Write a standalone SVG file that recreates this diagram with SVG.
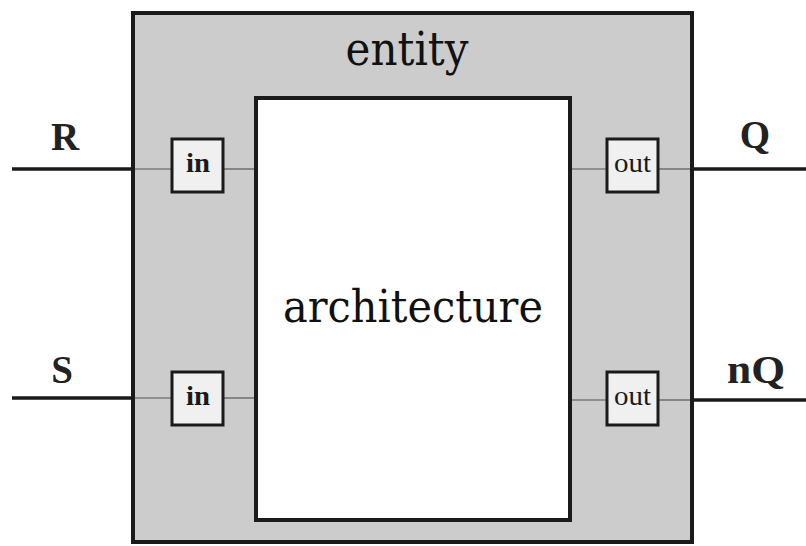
<svg xmlns="http://www.w3.org/2000/svg" width="806" height="546" viewBox="0 0 806 546">
  <style>
    .frame { stroke: #1a1a1a; stroke-width: 4; }
    .port { fill: #f0f0f0; stroke: #1a1a1a; stroke-width: 3; }
    .wire { stroke: #1a1a1a; stroke-width: 3.5; fill: none; }
    .tap { stroke: #555555; stroke-width: 1.2; fill: none; }
    .sig { font-family: "Liberation Serif", serif; font-weight: bold; font-size: 39px; fill: #222222; text-anchor: middle; }
    .pl { font-family: "Liberation Serif", serif; font-size: 28px; fill: #1a1a1a; text-anchor: middle; }
    .big { font-family: "DejaVu Serif", "Liberation Serif", serif; fill: #111111; text-anchor: middle; }
  </style>
  <rect width="806" height="546" fill="#ffffff"/>

  <g id="entity">
    <rect class="frame" x="133" y="13" width="559" height="529" fill="#cccccc"/>
    <text class="big" x="407" y="65" font-size="46" textLength="123" lengthAdjust="spacingAndGlyphs">entity</text>
  </g>

  <g id="architecture">
    <rect class="frame" x="256" y="98" width="314" height="422" fill="#ffffff"/>
    <text class="big" x="413" y="322" font-size="44" textLength="260" lengthAdjust="spacingAndGlyphs">architecture</text>
  </g>

  <g id="connectors">
    <line class="wire" x1="12" y1="169" x2="133" y2="169"/>
    <line class="wire" x1="12" y1="398" x2="133" y2="398"/>
    <line class="wire" x1="692" y1="169" x2="806" y2="169"/>
    <line class="wire" x1="692" y1="400" x2="806" y2="400"/>
    <line class="tap" x1="135" y1="169" x2="172" y2="169"/>
    <line class="tap" x1="223" y1="169" x2="254" y2="169"/>
    <line class="tap" x1="135" y1="398" x2="172" y2="398"/>
    <line class="tap" x1="223" y1="398" x2="254" y2="398"/>
    <line class="tap" x1="572" y1="169" x2="607" y2="169"/>
    <line class="tap" x1="658" y1="169" x2="690" y2="169"/>
    <line class="tap" x1="572" y1="400" x2="607" y2="400"/>
    <line class="tap" x1="658" y1="400" x2="690" y2="400"/>
  </g>

  <g id="port-R">
    <rect class="port" x="172" y="139" width="51" height="53"/>
    <text class="pl" x="198" y="172" font-weight="bold" textLength="24" lengthAdjust="spacingAndGlyphs">in</text>
    <text class="sig" x="65" y="150">R</text>
  </g>

  <g id="port-S">
    <rect class="port" x="172" y="372" width="51" height="53"/>
    <text class="pl" x="198" y="405" font-weight="bold" textLength="24" lengthAdjust="spacingAndGlyphs">in</text>
    <text class="sig" x="62" y="383">S</text>
  </g>

  <g id="port-Q">
    <rect class="port" x="607" y="139" width="51" height="53"/>
    <text class="pl" x="632.5" y="172" textLength="37" lengthAdjust="spacingAndGlyphs">out</text>
    <text class="sig" x="755" y="148">Q</text>
  </g>

  <g id="port-nQ">
    <rect class="port" x="607" y="372" width="51" height="53"/>
    <text class="pl" x="632.5" y="405" textLength="37" lengthAdjust="spacingAndGlyphs">out</text>
    <text class="sig" x="756" y="383" textLength="58" lengthAdjust="spacingAndGlyphs">nQ</text>
  </g>
</svg>
